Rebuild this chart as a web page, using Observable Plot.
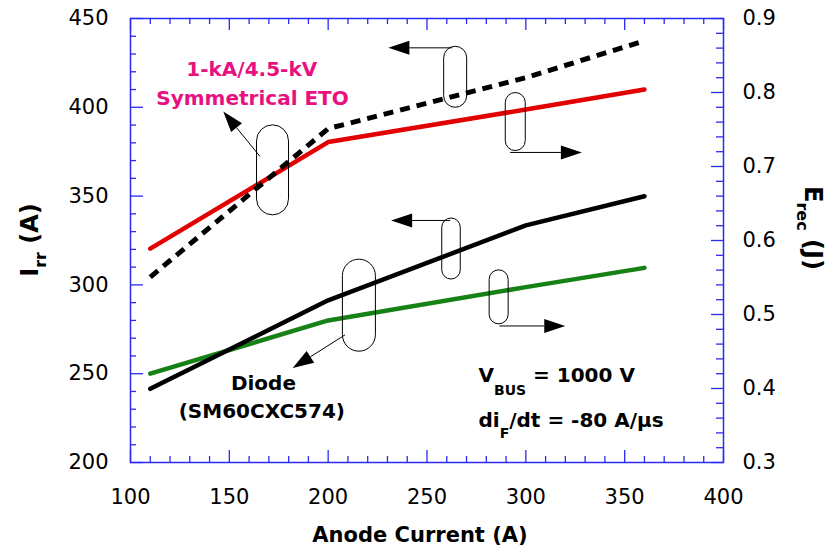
<!DOCTYPE html>
<html>
<head>
<meta charset="utf-8">
<script src="https://cdn.jsdelivr.net/npm/d3@7"></script>
<script src="https://cdn.jsdelivr.net/npm/@observablehq/plot@0.6"></script>
<style>
  html, body { margin: 0; padding: 0; background: #fff; }
  svg { font-family: "DejaVu Sans", sans-serif; }
</style>
</head>
<body>
<div id="chart"></div>
<script>
// ---- data ----
const anodeCurrent = [110, 200, 300, 360];              // A
const etoIrr      = [304.4, 388.0, 416.7, 437.4];        // A   (dashed black, left axis)
const etoErec     = [0.589, 0.733, 0.777, 0.804];        // J   (red, right axis)
const diodeIrr    = [241.5, 291.3, 333.5, 349.9];        // A   (solid black, left axis)
const diodeErec   = [0.420, 0.492, 0.537, 0.563];        // J   (green, right axis)

const xTicks = [100, 150, 200, 250, 300, 350, 400];
const yTicks = [200, 250, 300, 350, 400, 450];
const eTicks = [0.3, 0.4, 0.5, 0.6, 0.7, 0.8, 0.9];

// right axis (Erec) mapped onto the left (Irr) scale
const toLeft = e => +(200 + (e - 0.3) * 250 / 0.6).toFixed(6);
const fromLeft = v => 0.3 + (v - 200) * 0.6 / 250;

const rows = anodeCurrent.map((x, i) => ({
  x,
  etoIrr: etoIrr[i],
  etoErec: toLeft(etoErec[i]),
  diodeIrr: diodeIrr[i],
  diodeErec: toLeft(diodeErec[i])
}));

const xMinor = d3.range(100, 401, 10);
const yMinor = d3.range(200, 451, 10);
const eMinor = d3.range(0, 31).map(i => toLeft(0.3 + i * 0.02));

const W = 833, H = 555, ML = 130, MR = 110, MT = 18, MB = 93;
const IW = W - ML - MR, IH = H - MT - MB;
const blue = "#2a2af2";

const tickB = (ticks, len) => Plot.ruleX(ticks, {x: d => d, insetTop: IH - len, stroke: blue, strokeWidth: 1.3});
const tickT = (ticks, len) => Plot.ruleX(ticks, {x: d => d, insetBottom: IH - len, stroke: blue, strokeWidth: 1.3});
const tickL = (ticks, len) => Plot.ruleY(ticks, {y: d => d, insetRight: IW - len, stroke: blue, strokeWidth: 1.3});
const tickR = (ticks, len) => Plot.ruleY(ticks, {y: d => d, insetLeft: IW - len, stroke: blue, strokeWidth: 1.3});

const plot = Plot.plot({
  width: W,
  height: H,
  marginLeft: ML,
  marginRight: MR,
  marginTop: MT,
  marginBottom: MB,
  x: {domain: [100, 400]},
  y: {domain: [200, 450]},
  style: {fontFamily: "DejaVu Sans", fontSize: "21px", background: "#fff", color: "#000", overflow: "visible"},
  marks: [
    Plot.frame({stroke: blue, strokeWidth: 1.5, fill: "none"}),
    tickB(xMinor.filter(v => !xTicks.includes(v)), 6), tickB(xTicks, 12),
    tickT(xMinor.filter(v => !xTicks.includes(v)), 6), tickT(xTicks, 12),
    tickL(yMinor.filter(v => !yTicks.includes(v)), 6), tickL(yTicks, 13),
    tickR(eMinor.filter((v, i) => i % 5 !== 0), 7), tickR(eTicks.map(toLeft), 12),
    // tick labels
    Plot.axisX({anchor: "bottom", ticks: xTicks, tickSize: 0, tickPadding: 27, label: null, fontSize: 21}),
    Plot.axisY({anchor: "left", ticks: yTicks, tickSize: 0, tickPadding: 22, label: null, fontSize: 21}),
    Plot.axisY({anchor: "right", ticks: eTicks.map(toLeft), tickSize: 0, tickPadding: 19, label: null, fontSize: 21,
                tickFormat: d => d3.format(".1f")(fromLeft(d))}),
    // series
    Plot.line(rows, {x: "x", y: "diodeErec", stroke: "#168216", strokeWidth: 4.5}),
    Plot.line(rows, {x: "x", y: "diodeIrr", stroke: "#000", strokeWidth: 4.5}),
    Plot.line(rows, {x: "x", y: "etoErec", stroke: "#e20000", strokeWidth: 4.5}),
    Plot.line(rows, {x: "x", y: "etoIrr", stroke: "#000", strokeWidth: 5, strokeDasharray: "10,7", strokeLinecap: "butt"})
  ]
});

document.getElementById("chart").appendChild(plot);

const sx = plot.scale("x"), sy = plot.scale("y");
const svg = d3.select(plot);

// ---- annotations (data coordinates) ----
const capsules = [
  {x: 264.5, y: 416.9, w: 23, h: 61},
  {x: 294.9, y: 391.7, w: 20, h: 58},
  {x: 172.1, y: 364.5, w: 32, h: 90},
  {x: 262.4, y: 320.2, w: 18.5, h: 61},
  {x: 286.5, y: 293.0, w: 19, h: 54},
  {x: 215.8, y: 288.3, w: 33, h: 92}
];
const arrows = [
  {x1: 263.0, y1: 433.2, x2: 230.7, y2: 433.2},
  {x1: 292.3, y1: 374.3, x2: 328.6, y2: 374.3},
  {x1: 165.8, y1: 372.0, x2: 147.2, y2: 397.4},
  {x1: 262.0, y1: 336.0, x2: 232.1, y2: 336.0},
  {x1: 286.9, y1: 276.6, x2: 320.2, y2: 276.6},
  {x1: 208.8, y1: 271.6, x2: 182.3, y2: 252.9}
];
const labels = [
  {x: 161.6, y: 417.2, text: "1-kA/4.5-kV", color: "#e8117f"},
  {x: 162.0, y: 401.1, text: "Symmetrical ETO", color: "#e8117f"},
  {x: 167.5, y: 240.6, text: "Diode", color: "#000"},
  {x: 166.7, y: 224.8, text: "(SM60CXC574)", color: "#000"}
];
const condX = 276.3, vbusY = 245.2, didtY = 219.9;

const g = svg.append("g");

capsules.forEach(c => {
  const cx = sx.apply(c.x), cy = sy.apply(c.y);
  g.append("rect")
    .attr("x", cx - c.w / 2).attr("y", cy - c.h / 2)
    .attr("width", c.w).attr("height", c.h)
    .attr("rx", c.w / 2).attr("ry", c.w / 2)
    .attr("fill", "none").attr("stroke", "#000").attr("stroke-width", 1);
});

arrows.forEach(a => {
  const x1 = sx.apply(a.x1), y1 = sy.apply(a.y1), x2 = sx.apply(a.x2), y2 = sy.apply(a.y2);
  const dx = x2 - x1, dy = y2 - y1, L = Math.hypot(dx, dy);
  const ux = dx / L, uy = dy / L, hl = 21, hw = 7;
  const bx = x2 - ux * hl, by = y2 - uy * hl;
  g.append("line").attr("x1", x1).attr("y1", y1).attr("x2", bx).attr("y2", by)
    .attr("stroke", "#000").attr("stroke-width", 1);
  g.append("path")
    .attr("d", `M${x2},${y2}L${bx - uy * hw},${by + ux * hw}L${bx + uy * hw},${by - ux * hw}Z`)
    .attr("fill", "#000");
});

labels.forEach(l => {
  g.append("text").attr("x", sx.apply(l.x)).attr("y", sy.apply(l.y))
    .attr("text-anchor", "middle").attr("font-weight", "bold").attr("font-size", 20)
    .attr("fill", l.color).text(l.text);
});

// condition text with subscripts
const t1 = g.append("text").attr("x", sx.apply(condX)).attr("y", sy.apply(vbusY)).attr("text-anchor", "start")
  .attr("font-weight", "bold").attr("font-size", 20).attr("fill", "#000");
t1.append("tspan").text("V");
t1.append("tspan").attr("dy", 13).attr("font-size", 14).text("BUS");
t1.append("tspan").attr("dy", -13).text(" = 1000 V");

const t2 = g.append("text").attr("x", sx.apply(condX)).attr("y", sy.apply(didtY)).attr("text-anchor", "start")
  .attr("font-weight", "bold").attr("font-size", 20).attr("fill", "#000");
t2.append("tspan").text("di");
t2.append("tspan").attr("dy", 11).attr("font-size", 14).text("F");
t2.append("tspan").attr("dy", -11).text("/dt = -80 A/\u00b5s");

// axis titles
g.append("text").attr("x", 420).attr("y", 542).attr("text-anchor", "middle")
  .attr("font-weight", "bold").attr("font-size", 21).attr("fill", "#000").text("Anode Current (A)");

const yl = g.append("text").attr("transform", "translate(38,240) rotate(-90)").attr("text-anchor", "middle")
  .attr("font-weight", "bold").attr("font-size", 24).attr("fill", "#000");
yl.append("tspan").text("I");
yl.append("tspan").attr("dy", 8).attr("font-size", 16).text("rr");
yl.append("tspan").attr("dy", -8).text(" (A)");

const yr = g.append("text").attr("transform", "translate(805,228) rotate(90)").attr("text-anchor", "middle")
  .attr("font-weight", "bold").attr("font-size", 24).attr("fill", "#000");
yr.append("tspan").text("E");
yr.append("tspan").attr("dy", 8).attr("font-size", 16).text("rec");
yr.append("tspan").attr("dy", -8).text(" (J)");
</script>
</body>
</html>
